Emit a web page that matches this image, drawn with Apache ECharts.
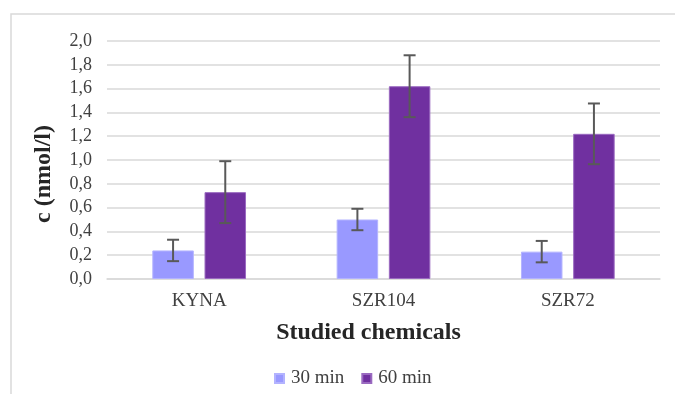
<!DOCTYPE html>
<html>
<head>
<meta charset="utf-8">
<script src="https://cdn.jsdelivr.net/npm/echarts@6/dist/echarts.min.js"></script>
<style>html,body{margin:0;padding:0;background:#fff}#c{width:675px;height:394px}</style>
</head>
<body>
<div id="c"></div>
<script>
var categories = ['KYNA', 'SZR104', 'SZR72'];
var seriesNames = ['30 min', '60 min'];
var values30 = [0.24, 0.50, 0.23];
var values60 = [0.73, 1.62, 1.22];
var err30 = [0.09, 0.09, 0.09];
var err60 = [0.26, 0.26, 0.255];
var yTicks = [0, 0.2, 0.4, 0.6, 0.8, 1.0, 1.2, 1.4, 1.6, 1.8, 2.0];

var BAR_W = 41.5;
var BAR_GAP_PX = 10.7;
var colors = ['#9999ff', '#7030a0'];

function errSeries(vals, errs, idx) {
  var offset = (idx === 0 ? -1 : 1) * (BAR_W + BAR_GAP_PX) / 2;
  return {
    type: 'custom',
    name: seriesNames[idx] + ' error',
    silent: true,
    z: 10,
    data: vals.map(function (v, i) { return [i, v - errs[i], v + errs[i]]; }),
    renderItem: function (params, api) {
      var lo = api.coord([api.value(0), api.value(1)]);
      var hi = api.coord([api.value(0), api.value(2)]);
      var x = lo[0] + offset;
      var hw = 6;
      var st = { stroke: '#595959', lineWidth: 2 };
      return {
        type: 'group',
        children: [
          { type: 'line', shape: { x1: x, y1: hi[1], x2: x, y2: lo[1] }, style: st },
          { type: 'line', shape: { x1: x - hw, y1: hi[1], x2: x + hw, y2: hi[1] }, style: st },
          { type: 'line', shape: { x1: x - hw, y1: lo[1], x2: x + hw, y2: lo[1] }, style: st }
        ]
      };
    }
  };
}

var chart = echarts.init(document.getElementById('c'));
chart.setOption({
  animation: false,
  backgroundColor: '#fff',
  graphic: [{
    type: 'rect',
    shape: { x: 11, y: 14, width: 700, height: 420 },
    style: { fill: 'none', stroke: '#d9d9d9', lineWidth: 1.5 },
    silent: true
  }],
  grid: { left: 107, right: 15, top: 41, bottom: 115 },
  legend: {
    data: seriesNames,
    bottom: 1,
    left: 269,
    itemWidth: 9,
    itemHeight: 9,
    itemGap: 17,
    icon: 'rect',
    textStyle: { fontFamily: 'Liberation Serif', fontSize: 19, color: '#404040', padding: [0, 0, 0, 2] }
  },
  xAxis: {
    type: 'category',
    data: categories,
    name: 'Studied chemicals',
    nameLocation: 'middle',
    nameGap: 42,
    nameTextStyle: { fontFamily: 'Liberation Serif', fontWeight: 'bold', fontSize: 24, color: '#262626', padding: [0, 30, 0, 0] },
    axisLine: { lineStyle: { color: '#d9d9d9', width: 1.5 } },
    axisTick: { show: false },
    axisLabel: { fontFamily: 'Liberation Serif', fontSize: 19, color: '#404040', margin: 13 }
  },
  yAxis: {
    type: 'value',
    min: 0,
    max: 2,
    interval: 0.2,
    name: 'c (nmol/l)',
    nameLocation: 'middle',
    nameGap: 51,
    nameTextStyle: { fontFamily: 'Liberation Serif', fontWeight: 'bold', fontSize: 24, color: '#262626', padding: [0, 28, 0, 0] },
    axisLine: { show: false },
    axisTick: { show: false },
    splitLine: { lineStyle: { color: '#d9d9d9', width: 1.5 } },
    axisLabel: {
      fontFamily: 'Liberation Serif', fontSize: 18, color: '#404040', margin: 15,
      formatter: function (v) { return v.toFixed(1).replace('.', ','); }
    }
  },
  series: [
    {
      type: 'bar', name: seriesNames[0], data: values30, barWidth: BAR_W,
      barGap: (BAR_GAP_PX / BAR_W * 100).toFixed(1) + '%',
      itemStyle: { color: colors[0], borderColor: '#b3b3ff', borderWidth: 1 }
    },
    {
      type: 'bar', name: seriesNames[1], data: values60, barWidth: BAR_W,
      itemStyle: { color: colors[1], borderColor: '#9a6ac0', borderWidth: 1 }
    },
    errSeries(values30, err30, 0),
    errSeries(values60, err60, 1)
  ]
});
</script>
</body>
</html>
